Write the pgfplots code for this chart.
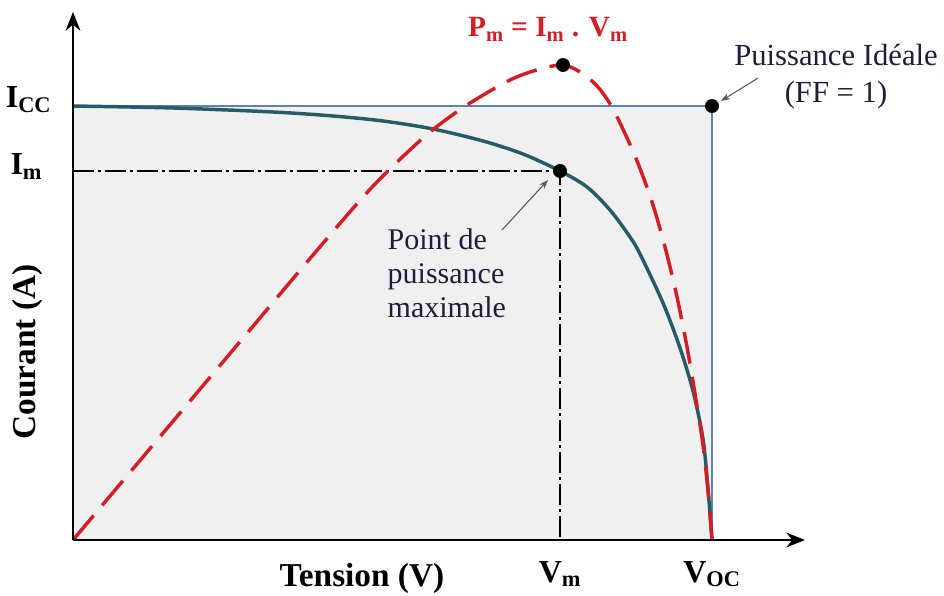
\documentclass[border=0pt]{standalone}
\usepackage{fontspec}
\setmainfont{Liberation Serif}
\usepackage{pgfplots}
\pgfplotsset{compat=1.18}
\usetikzlibrary{arrows.meta}
\definecolor{tealc}{RGB}{38,92,104}
\definecolor{redc}{RGB}{210,30,36}
\definecolor{bluec}{RGB}{95,130,175}
\definecolor{fillc}{RGB}{240,240,240}
\definecolor{navy}{RGB}{30,30,60}
\begin{document}
\begin{tikzpicture}
\useasboundingbox (0pt,0pt) rectangle (708pt,446.25pt);
\begin{axis}[at={(54.75pt,41.25pt)}, anchor=south west, scale only axis,
  width=549pt, height=396pt, xmin=0, xmax=732, ymin=0, ymax=528,
  axis lines=none, clip=false]
% ideal power rectangle
\addplot[fill=fillc, draw=none] coordinates {(0,0) (0,434) (639,434) (639,0)} -- cycle;
\addplot[bluec, line width=1.3pt] coordinates {(0,434) (639,434) (639,0)};
% Im / Vm guides
\addplot[black, line width=1.4pt, dash pattern=on 16pt off 3pt on 2pt off 3pt] coordinates {(0,369) (487,369) (487,0)};
% I-V curve
\addplot[tealc, line width=2.6pt, smooth, tension=0.5] coordinates {
(0,434) (100,432) (200,428) (260,424) (310,419) (360,411) (410,399) (450,386) (487,369)
(514,353) (537,330) (557,303) (567,286) (590,237) (607,192) (620,149) (630,101) (635,51) (639,0)};
% Power curve
\addplot[redc, line width=2.6pt, smooth, tension=0.5, dash pattern=on 24pt off 10pt] coordinates {
(0,0) (80,95) (160,190) (240,285) (290,343) (320,374) (357,408) (394,435) (437,460)
(467,471) (490,475) (507,468) (524,454) (540,431) (562,384) (579,338) (592,293)
(604,243) (614,193) (622,146) (630,95) (635,49) (639,0)};
% axes
\draw[line width=2.2pt, -{Stealth[length=14pt,width=11pt]}] (axis cs:0,0) -- (axis cs:732,0);
\draw[line width=2.2pt, -{Stealth[length=14pt,width=11pt]}] (axis cs:0,0) -- (axis cs:0,528);
% points
\addplot[only marks, mark=*, mark size=5pt, black] coordinates {(487,369) (490,475) (639,434)};
% annotation arrows
\draw[gray!70!black, line width=0.8pt, -{Stealth[length=7pt,width=5pt]}] (axis cs:429,310) -- (axis cs:475,360);
\draw[gray!70!black, line width=0.8pt, -{Stealth[length=7pt,width=5pt]}] (axis cs:685,462) -- (axis cs:648,439);
% labels
\node[anchor=base east, font=\fontsize{24}{28}\selectfont\bfseries] at (axis cs:-17,432) {I\textsubscript{CC}};
\node[anchor=base east, font=\fontsize{24}{28}\selectfont\bfseries] at (axis cs:-26,365) {I\textsubscript{m}};
\node[anchor=base, font=\fontsize{24}{28}\selectfont\bfseries] at (axis cs:487,-42) {V\textsubscript{m}};
\node[anchor=base, font=\fontsize{24}{28}\selectfont\bfseries] at (axis cs:639,-42) {V\textsubscript{OC}};
\node[anchor=base, font=\fontsize{25}{30}\selectfont\bfseries] at (axis cs:289,-46) {Tension (V)};
\node[rotate=90, font=\fontsize{25}{30}\selectfont\bfseries] at (axis cs:-46,188) {Courant (A)};
\node[anchor=base, text=redc, font=\fontsize{22}{26}\selectfont\bfseries] at (axis cs:475,503) {P\textsubscript{m} = I\textsubscript{m} . V\textsubscript{m}};
\node[anchor=base, text=navy, font=\fontsize{23}{27}\selectfont] at (axis cs:763,474) {Puissance Idéale};
\node[anchor=base, text=navy, font=\fontsize{23}{27}\selectfont] at (axis cs:763,437) {(FF = 1)};
\node[anchor=base west, text=navy, font=\fontsize{22.5}{26}\selectfont] at (axis cs:310,290) {Point de};
\node[anchor=base west, text=navy, font=\fontsize{22.5}{26}\selectfont] at (axis cs:310,256) {puissance};
\node[anchor=base west, text=navy, font=\fontsize{22.5}{26}\selectfont] at (axis cs:310,222) {maximale};
\end{axis}
\end{tikzpicture}
\end{document}
